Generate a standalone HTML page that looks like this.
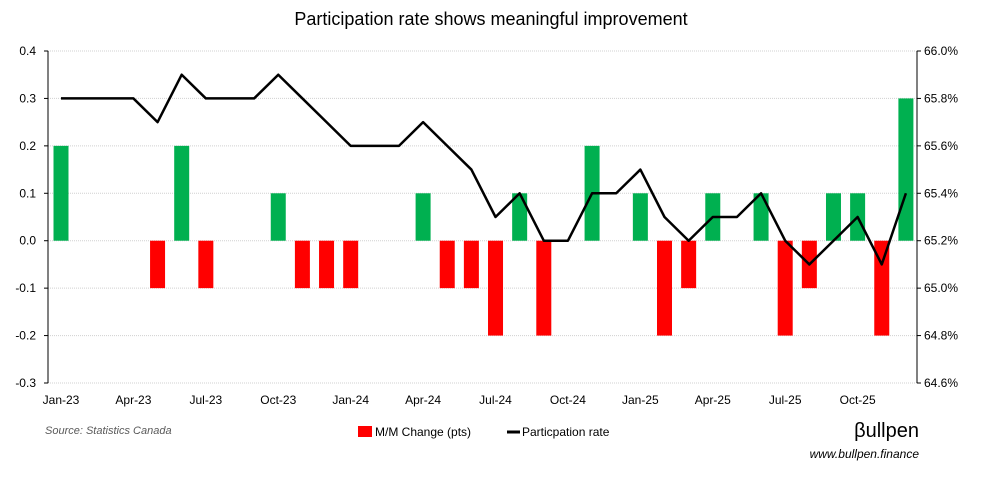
<!DOCTYPE html>
<html><head><meta charset="utf-8"><style>
body{margin:0;background:#fff;width:982px;height:475px;overflow:hidden;font-family:"Liberation Sans Narrow","Liberation Sans",sans-serif}
</style></head><body>
<svg id="chart" width="982" height="475" xmlns="http://www.w3.org/2000/svg" font-family="Liberation Sans Narrow, Liberation Sans, sans-serif">
<text x="491" y="25" text-anchor="middle" font-size="18" fill="#000">Participation rate shows meaningful improvement</text>
<g id="grid"></g><g id="bars"></g><g id="line"></g><g id="axes"></g>
<text x="45" y="434" font-size="11" font-style="italic" fill="#595959">Source: Statistics Canada</text>
<rect x="358" y="426" width="14" height="11" fill="#ff0000"/>
<text x="375" y="436" font-size="12" fill="#000">M/M Change (pts)</text>
<line x1="507" y1="432" x2="520" y2="432" stroke="#000" stroke-width="3"/>
<text x="522" y="436" font-size="12" fill="#000">Particpation rate</text>
<text x="919" y="437" text-anchor="end" font-size="20" fill="#000">βullpen</text>
<text x="919" y="458" text-anchor="end" font-size="12" font-style="italic" fill="#000">www.bullpen.finance</text>
</svg>
<script>
const months=["Jan-23","Feb-23","Mar-23","Apr-23","May-23","Jun-23","Jul-23","Aug-23","Sep-23","Oct-23","Nov-23","Dec-23","Jan-24","Feb-24","Mar-24","Apr-24","May-24","Jun-24","Jul-24","Aug-24","Sep-24","Oct-24","Nov-24","Dec-24","Jan-25","Feb-25","Mar-25","Apr-25","May-25","Jun-25","Jul-25","Aug-25","Sep-25","Oct-25","Nov-25","Dec-25"];
const changes=[0.2,0,0,0,-0.1,0.2,-0.1,0,0,0.1,-0.1,-0.1,-0.1,0,0,0.1,-0.1,-0.1,-0.2,0.1,-0.2,0,0.2,0,0.1,-0.2,-0.1,0.1,0,0.1,-0.2,-0.1,0.1,0.1,-0.2,0.3];
const rates=[65.8,65.8,65.8,65.8,65.7,65.9,65.8,65.8,65.8,65.9,65.8,65.7,65.6,65.6,65.6,65.7,65.6,65.5,65.3,65.4,65.2,65.2,65.4,65.4,65.5,65.3,65.2,65.3,65.3,65.4,65.2,65.1,65.2,65.3,65.1,65.4];
const leftTicks=[0.4,0.3,0.2,0.1,0.0,-0.1,-0.2,-0.3];
const rightTicks=[66.0,65.8,65.6,65.4,65.2,65.0,64.8,64.6];
const xLabelIdx=[0,3,6,9,12,15,18,21,24,27,30,33];
const NS="http://www.w3.org/2000/svg";
const X0=48,X1=917,TOP=51,BOT=383;
const step=24.14;
const x=i=>61+step*i;
const yL=v=>TOP+(0.4-v)/0.7*(BOT-TOP);
const yR=v=>TOP+(66.0-v)/1.4*(BOT-TOP);
function mk(tag,attrs,parent,text){const e=document.createElementNS(NS,tag);for(const k in attrs)e.setAttribute(k,attrs[k]);if(text!==undefined)e.textContent=text;document.getElementById(parent).appendChild(e);return e;}
leftTicks.forEach((v,i)=>{
  const g=mk('line',{x1:X0,x2:X1,y1:yL(v),y2:yL(v),stroke:'#d0d0d0','stroke-dasharray':'1,1'},'grid');
  
  
  const t=mk('text',{x:36,y:yL(v)+4,'text-anchor':'end','font-size':12},'axes',v.toFixed(1));
  
  
  const tk=mk('line',{x1:X0-4,x2:X0,y1:yL(v),y2:yL(v),stroke:'#000'},'axes');
  
  
});
rightTicks.forEach(v=>{
  const t=mk('text',{x:924,y:yR(v)+4,'font-size':12},'axes',v.toFixed(1)+'%');
  
  
  const tk=mk('line',{x1:X1,x2:X1+4,y1:yR(v),y2:yR(v),stroke:'#000'},'axes');
  
  
});
const la=mk('line',{x1:X0,x2:X0,y1:TOP,y2:BOT,stroke:'#000'},'axes');


const ra=mk('line',{x1:X1,x2:X1,y1:TOP,y2:BOT,stroke:'#000'},'axes');


xLabelIdx.forEach(i=>{
  const t=mk('text',{x:x(i),y:404,'text-anchor':'middle','font-size':12},'axes',months[i]);
  
  
});
changes.forEach((v,i)=>{
  if(v===0)return;
  const y0=yL(0),y1=yL(v);
  const b=mk('rect',{x:x(i)-7.5,y:Math.min(y0,y1),width:15,height:Math.abs(y1-y0),fill:v>0?'#00b050':'#ff0000'},'bars');
  
  
});
const p=mk('polyline',{points:rates.map((v,i)=>x(i)+','+yR(v)).join(' '),fill:'none',stroke:'#000','stroke-width':2.5,'stroke-linejoin':'round'},'line');


</script>
</body></html>
